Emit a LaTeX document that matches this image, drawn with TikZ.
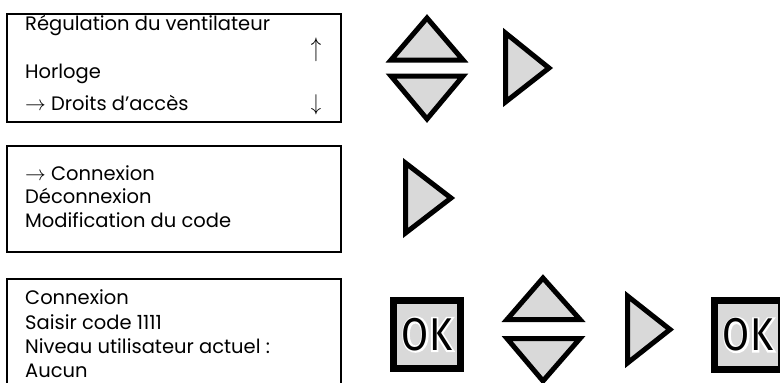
\documentclass[tikz,border=0pt]{standalone}
\usepackage{fontspec}
\setmainfont{Poppins}
\newfontfamily\okfont[FakeStretch=0.85]{Fira Sans}
\newfontfamily\okhalo[FakeStretch=0.85,FakeBold=8]{Fira Sans}
\definecolor{btngray}{HTML}{D9D9D9}
\begin{document}
\begin{tikzpicture}[x=1pt,y=-1pt,
  panel/.style={draw=black,line width=2pt},
  btn/.style={draw=black,line width=5pt,fill=btngray,line join=miter},
  okbox/.style={draw=black,line width=6.5pt,fill=btngray},
  txt/.style={anchor=base west,inner sep=0pt,font=\fontsize{19.5}{22}\selectfont},
  arr/.style={anchor=base,inner sep=0pt,font=\fontsize{20}{20}\selectfont},
  okt/.style={inner sep=0pt,font=\okfont\fontsize{46}{46}\selectfont},
  okh/.style={inner sep=0pt,text=white,font=\okhalo\fontsize{46}{46}\selectfont}]
\useasboundingbox (0,0) rectangle (780,383);
\clip (0,0) rectangle (780,383);
% panels
\draw[panel] (7,14) rectangle (340.5,122);
\draw[panel] (7,146) rectangle (340.5,252);
\draw[panel] (7,279) rectangle (340.5,400);
% panel 1 text
\node[txt] (t1) at (25,30) {Régulation du ventilateur};
\node[txt] (t2) at (25,78) {Horloge};
\node[txt] (t3) at (25,110) {$\rightarrow$ Droits d’accès};
\node[arr] (up) at (316,56) {\scalebox{1}[1.3]{$\uparrow$}};
\node[arr] (dn) at (316,110) {\scalebox{1}[1.1]{$\downarrow$}};
% panel 2 text
\node[txt] (m1) at (25,180) {$\rightarrow$ Connexion};
\node[txt] (m2) at (25,203.5) {Déconnexion};
\node[txt] (m3) at (25,227) {Modification du code};
% panel 3 text
\node[txt] (b1) at (25,304.5) {Connexion};
\node[txt] (b2) at (25,329) {Saisir code 1111};
\node[txt] (b3) at (25,353) {Niveau utilisateur actuel :};
\node[txt] (b4) at (25,377) {Aucun};
% top row buttons
\draw[btn] (427,18) -- (463,60) -- (391,60) -- cycle;
\draw[btn] (391,76) -- (463,76) -- (427,119) -- cycle;
\draw[btn] (505.5,33) -- (549,68) -- (505.5,102) -- cycle;
% middle row
\draw[btn] (405.5,163) -- (451,198) -- (405.5,233) -- cycle;
% bottom row
\draw[okbox] (393.5,300.5) rectangle (460.5,368.5);
\node[okh] (ok1h) at (427,334.5) {OK};
\node[okt] (ok1) at (427,334.5) {OK};
\draw[btn] (543,278) -- (580,319.5) -- (507,319.5) -- cycle;
\draw[btn] (507,338.5) -- (580,338.5) -- (543,381) -- cycle;
\draw[btn] (627.5,296) -- (670,329.5) -- (627.5,363) -- cycle;
\draw[okbox] (714.5,300.5) rectangle (781.5,369.5);
\node[okh] (ok2h) at (748,335) {OK};
\node[okt] (ok2) at (748,335) {OK};
\end{tikzpicture}
\end{document}
